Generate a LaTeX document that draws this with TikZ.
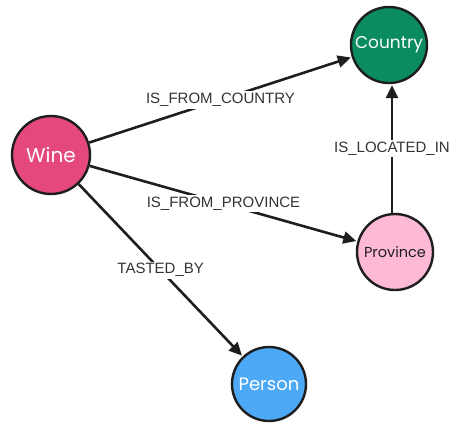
\documentclass[tikz,border=0pt]{standalone}
\usepackage{fontspec}
\setmainfont{Liberation Sans}
\newfontfamily\nodefont{Poppins}
\usetikzlibrary{arrows.meta}
\definecolor{winec}{HTML}{E5487F}
\definecolor{countryc}{HTML}{0B8C5E}
\definecolor{provincec}{HTML}{FDB9D6}
\definecolor{personc}{HTML}{4DA8F5}
\definecolor{inkc}{HTML}{1E1E1E}
\definecolor{labelc}{HTML}{333333}
\tikzset{
  entity/.style={circle, draw=inkc, line width=2.4pt, minimum size=#1, inner sep=0pt, font=\nodefont\fontsize{17}{20}\selectfont},
  edge/.style={draw=inkc, line width=2.6pt, -{Triangle[length=13pt,width=12pt]}, shorten >=1pt},
  elabel/.style={fill=white, text=labelc, inner sep=2pt, font=\fontsize{15}{18}\selectfont}
}
\begin{document}
\begin{tikzpicture}[x=1pt,y=-1pt]
\useasboundingbox (0,0) rectangle (462,431);
\node[entity=78pt, fill=winec, text=white, font=\nodefont\fontsize{20}{24}\selectfont] (wine) at (51,155) {Wine};
\node[entity=76pt, fill=countryc, text=white] (country) at (389,45) {Country};
\node[entity=76pt, fill=provincec, text=inkc, font=\nodefont\fontsize{14.5}{17}\selectfont] (province) at (395,252) {Province};
\node[entity=74pt, fill=personc, text=white, font=\nodefont\fontsize{18}{22}\selectfont] (person) at (269,384) {Person};
\draw[edge] (wine) -- node[elabel, pos=0.5] {IS\_FROM\_COUNTRY} (country);
\draw[edge] (wine) -- node[elabel, pos=0.5] {IS\_FROM\_PROVINCE} (province);
\draw[edge] (wine) -- node[elabel, pos=0.5] {TASTED\_BY} (person);
\coordinate (ptop) at ([xshift=-3pt]province.north);
\draw[edge] (ptop) -- node[elabel, pos=0.5] {IS\_LOCATED\_IN} (ptop |- country.south);
\end{tikzpicture}
\end{document}
